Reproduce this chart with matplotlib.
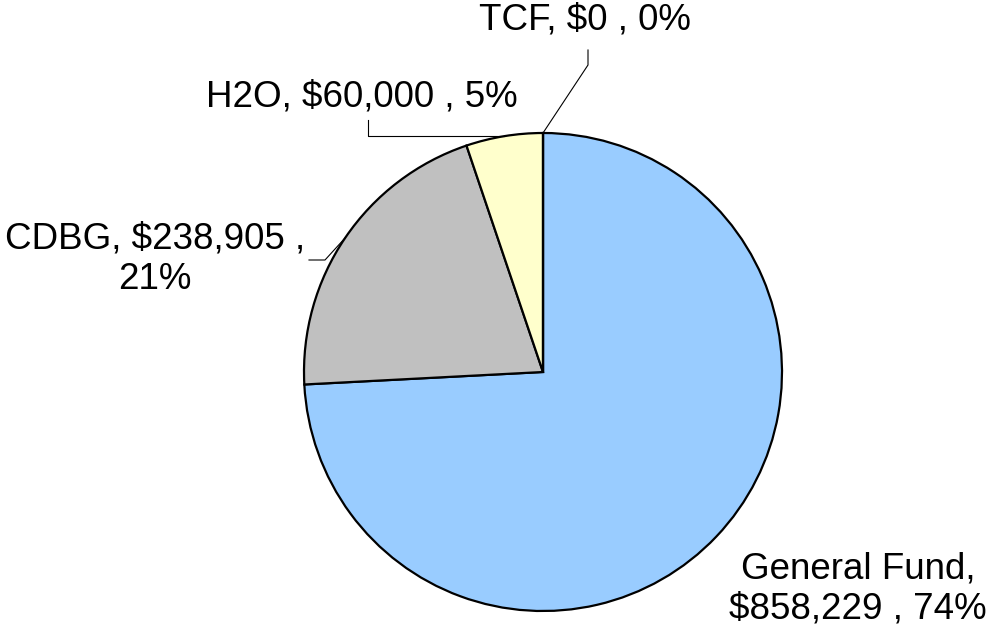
import numpy as np
import matplotlib
matplotlib.use('Agg')
import matplotlib.pyplot as plt

names = ['General Fund', 'CDBG', 'H2O', 'TCF']
values = [858229, 238905, 60000, 0]
colors = ['#99CCFF', '#C0C0C0', '#FFFFCC', '#FFFFCC']

W, H = 990, 629
cx, cy, r = 543, H - 372, 239

plt.rcParams['font.family'] = ['Liberation Sans', 'DejaVu Sans']

fig = plt.figure(figsize=(W / 100, H / 100), dpi=100)
ax = fig.add_axes([0, 0, 1, 1])
ax.set_xlim(0, W)
ax.set_ylim(0, H)
ax.axis('off')

ax.pie(values, colors=colors, startangle=90, counterclock=False,
       center=(cx, cy), radius=r, frame=True,
       wedgeprops=dict(edgecolor='black', linewidth=1.6))
ax.set_xlim(0, W)
ax.set_ylim(0, H)
ax.axis('off')

total = sum(values)
pcts = [round(100 * v / total) for v in values]


def lab(i):
    return f"{names[i]}, ${values[i]:,} , {pcts[i]}%"


def edge_point(i):
    # point on the rim at the middle of wedge i (clockwise from 12 o'clock)
    start = sum(values[:i]) / total
    mid = start + values[i] / total / 2
    a = np.deg2rad(90 - 360 * mid)
    return cx + r * np.cos(a), cy + r * np.sin(a)


fs = 26.5
# General Fund
ax.text(858, H - 589, "General Fund,\n" + f"${values[0]:,} , {pcts[0]}%",
        ha='center', va='center', fontsize=fs, linespacing=1.2)
# CDBG
ax.text(155, H - 259, f"{names[1]}, ${values[1]:,} ,\n{pcts[1]}%",
        ha='center', va='center', fontsize=fs, linespacing=1.2)
# H2O
ax.text(362, H - 97, lab(2), ha='center', va='center', fontsize=fs)
# TCF
ax.text(585, H - 20, lab(3), ha='center', va='center', fontsize=fs)

# leader lines
x0, y0 = edge_point(1)
ax.plot([x0, 325, 309], [y0, H - 260, H - 260], color='black', lw=0.8)
x0, y0 = edge_point(2)
ax.plot([x0, 368, 368], [y0, y0, H - 120], color='black', lw=0.8)
x0, y0 = edge_point(3)
ax.plot([x0, 588, 588], [y0, H - 65, H - 50], color='black', lw=0.8)

fig.savefig('out.png', dpi=100, facecolor='white')
